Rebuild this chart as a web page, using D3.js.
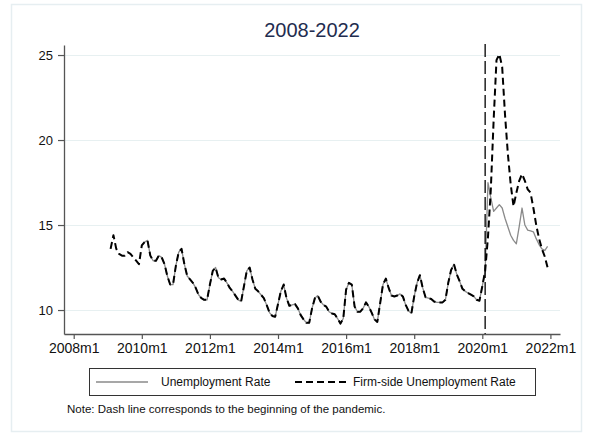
<!DOCTYPE html>
<html>
<head>
<meta charset="utf-8">
<script src="https://cdn.jsdelivr.net/npm/d3@7"></script>
<style>
  html, body { margin: 0; padding: 0; background: #fff; }
  svg { display: block; font-family: "Liberation Sans", Arial, sans-serif; }
</style>
</head>
<body>
<svg id="chart" width="591" height="433"></svg>
<script>
// Monthly series, starting 2009m2 (months counted from 2008m1 = 0)
const firstMonth = 13;
const pandemicMonth = 145; // 2020m2

// 2009m2–2009m12: only the firm-side measure is available
const firmSide2009 = [13.6, 14.4, 13.6, 13.3, 13.2, 13.2, 13.4, 13.3, 13.1, 12.9, 12.7];

// 2010m1–2020m2: both measures coincide
const commonRate = [
  13.8, 14.0, 14.1, 13.2, 12.9, 12.9, 13.2, 13.1, 12.7, 12.0, 11.5, 11.5,
  12.6, 13.4, 13.6, 12.7, 12.0, 11.8, 11.6, 11.3, 10.9, 10.7, 10.6, 10.6,
  11.5, 12.3, 12.5, 11.9, 11.8, 11.85, 11.6, 11.3, 11.1, 10.85, 10.6, 10.5,
  11.4, 12.3, 12.5, 11.8, 11.25, 11.1, 10.9, 10.7, 10.3, 9.85, 9.65, 9.6,
  10.35, 11.1, 11.5, 10.7, 10.25, 10.3, 10.35, 10.1, 9.7, 9.45, 9.25, 9.25,
  10.1, 10.7, 10.85, 10.5, 10.3, 10.2, 9.9, 9.8, 9.75, 9.5, 9.2, 9.5,
  11.2, 11.6, 11.5, 10.2, 9.9, 9.9, 10.1, 10.45, 10.2, 9.85, 9.45, 9.3,
  10.4, 11.5, 11.85, 11.3, 10.85, 10.8, 10.85, 10.95, 10.8, 10.3, 9.95, 9.8,
  10.8, 11.6, 12.05, 11.3, 10.75, 10.7, 10.65, 10.5, 10.45, 10.45, 10.45, 10.6,
  11.6, 12.35, 12.7, 12.1, 11.7, 11.25, 11.1, 11.0, 10.9, 10.8, 10.6, 10.55,
  11.4, 12.3
];

// 2020m3–2021m12
const firmSidePandemic = [
  14.3, 17.1, 21.2, 24.7, 25.05, 24.3, 21.5, 19.2, 17.4, 16.1,
  16.9, 17.6, 18.0, 17.6, 17.1, 16.9, 16.0, 15.0, 14.2, 13.6, 13.15, 12.5
];
const unemploymentPandemic = [
  17.5, 16.6, 15.8, 16.0, 16.2, 16.0, 15.4, 14.9, 14.4, 14.1,
  13.9, 14.9, 16.0, 15.0, 14.7, 14.65, 14.6, 14.2, 13.85, 13.6, 13.5, 13.75
];

const unemploymentRate = [...firmSide2009.map(() => null), ...commonRate, ...unemploymentPandemic];
const firmSideRate = [...firmSide2009, ...commonRate, ...firmSidePandemic];

const xTickMonths = [0, 24, 48, 72, 96, 120, 144, 168];
const xTickLabels = ["2008m1", "2010m1", "2012m1", "2014m1", "2016m1", "2018m1", "2020m1", "2022m1"];
const yTickValues = [10, 15, 20, 25];

const titleText = "2008-2022";
const legendLabels = ["Unemployment Rate", "Firm-side Unemployment Rate"];
const noteText = "Note: Dash line corresponds to the beginning of the pandemic.";

const svg = d3.select("#chart");

// Outer graph region outline
svg.append("rect")
  .attr("x", 11.5).attr("y", 4.5).attr("width", 570).attr("height", 427)
  .attr("fill", "#fff").attr("stroke", "#e6eef1").attr("stroke-width", 1.5);

const plot = { left: 64, right: 560, top: 45, bottom: 334 };

const x = d3.scaleLinear().domain([-3.42, 171.38]).range([plot.left, plot.right]);
const y = d3.scaleLinear().domain([8.59, 25.59]).range([plot.bottom, plot.top]);

// Horizontal gridlines
svg.append("g").selectAll("line").data(yTickValues).join("line")
  .attr("x1", plot.left).attr("x2", plot.right)
  .attr("y1", d => Math.round(y(d)) + 0.5).attr("y2", d => Math.round(y(d)) + 0.5)
  .attr("stroke", "#e7f0f1").attr("stroke-width", 1);

// Title
svg.append("text")
  .attr("x", (plot.left + plot.right) / 2).attr("y", 37)
  .attr("text-anchor", "middle").attr("font-size", 20).attr("fill", "#1f2d4f")
  .text(titleText);

// Series
const points = s => s.map((v, i) => ({ m: firstMonth + i, v }));
const line = d3.line().defined(d => d.v != null).x(d => x(d.m)).y(d => y(d.v));

svg.append("path")
  .datum(points(unemploymentRate))
  .attr("d", line)
  .attr("fill", "none").attr("stroke", "#8a8a8a").attr("stroke-width", 1.3)
  .attr("stroke-linejoin", "round");

svg.append("path")
  .datum(points(firmSideRate))
  .attr("d", line)
  .attr("fill", "none").attr("stroke", "#000").attr("stroke-width", 2)
  .attr("stroke-dasharray", "7,4").attr("stroke-linejoin", "round");

// Pandemic marker
svg.append("line")
  .attr("x1", x(pandemicMonth)).attr("x2", x(pandemicMonth))
  .attr("y1", plot.top - 1).attr("y2", plot.bottom)
  .attr("stroke", "#000").attr("stroke-width", 1.3)
  .attr("stroke-dasharray", "13,4");

// Axes
const xAxis = svg.append("g")
  .attr("transform", `translate(0,${plot.bottom})`)
  .call(d3.axisBottom(x).tickValues(xTickMonths)
    .tickFormat((d, i) => xTickLabels[i]).tickSize(5).tickSizeOuter(0).tickPadding(4));
xAxis.selectAll("text").attr("font-size", 14).attr("fill", "#111").attr("font-family", null);

const yAxis = svg.append("g")
  .attr("transform", `translate(${plot.left},0)`)
  .call(d3.axisLeft(y).tickValues(yTickValues).tickSize(6).tickSizeOuter(0).tickPadding(5));
yAxis.selectAll("text").attr("font-size", 13).attr("fill", "#111").attr("font-family", null);

[xAxis, yAxis].forEach(g => {
  g.select(".domain").attr("stroke", "#555").attr("stroke-width", 1.3);
  g.selectAll(".tick line").attr("stroke", "#555").attr("stroke-width", 1.2);
});

// Legend
const legend = svg.append("g");
legend.append("rect")
  .attr("x", 89.5).attr("y", 368.5).attr("width", 446).attr("height", 27)
  .attr("fill", "#fff").attr("stroke", "#333").attr("stroke-width", 1);
legend.append("line")
  .attr("x1", 96).attr("x2", 148).attr("y1", 382).attr("y2", 382)
  .attr("stroke", "#8a8a8a").attr("stroke-width", 1.3);
legend.append("text")
  .attr("x", 161).attr("y", 386).attr("font-size", 12).attr("fill", "#111")
  .text(legendLabels[0]);
legend.append("line")
  .attr("x1", 295).attr("x2", 347).attr("y1", 382).attr("y2", 382)
  .attr("stroke", "#000").attr("stroke-width", 2).attr("stroke-dasharray", "7,4");
legend.append("text")
  .attr("x", 353).attr("y", 386).attr("font-size", 12).attr("fill", "#111")
  .text(legendLabels[1]);

// Note
svg.append("text")
  .attr("x", 67).attr("y", 413).attr("font-size", 11.5).attr("fill", "#111")
  .text(noteText);
</script>
</body>
</html>
